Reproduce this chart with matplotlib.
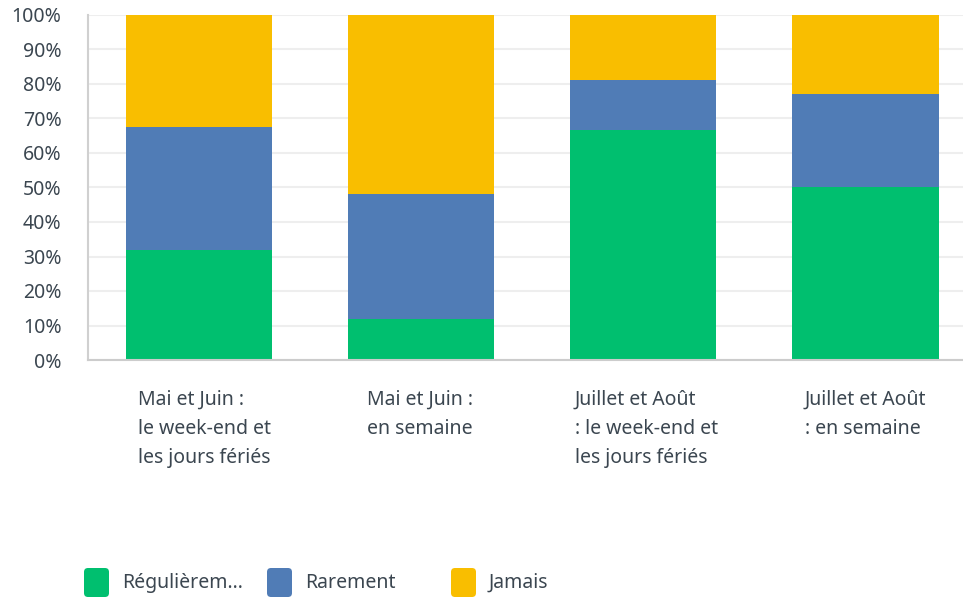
import matplotlib.pyplot as plt
from matplotlib.patches import FancyBboxPatch
from matplotlib.ticker import FuncFormatter

plt.rcParams["font.family"] = ["Noto Sans", "DejaVu Sans"]

categories = [
    "Mai et Juin :\nle week-end et\nles jours fériés",
    "Mai et Juin :\nen semaine",
    "Juillet et Août\n: le week-end et\nles jours fériés",
    "Juillet et Août\n: en semaine",
]
series = ["Régulièrem...", "Rarement", "Jamais"]
regulierement = [32.0, 11.9, 66.7, 50.0]
rarement = [35.5, 36.2, 14.5, 27.1]
jamais = [32.5, 51.9, 18.8, 22.9]

COLORS = ["#00bf6f", "#507cb6", "#f9be00"]
TXT = "#3b4650"

W, H = 963, 599
fig = plt.figure(figsize=(W / 100, H / 100), dpi=100)
ax = fig.add_axes([88 / W, (H - 360) / H, (W - 88) / W, 345 / H])

x = list(range(len(categories)))
bottom = [0.0] * len(x)
for vals, col in zip([regulierement, rarement, jamais], COLORS):
    ax.bar(x, vals, bottom=bottom, width=0.66, color=col, zorder=2)
    bottom = [b + v for b, v in zip(bottom, vals)]

ax.set_xlim(-0.5, 3.44)
ax.set_ylim(0, 100)
ax.set_yticks(range(0, 101, 10))
ax.yaxis.set_major_formatter(FuncFormatter(lambda v, _: f"{v:.0f}%"))
ax.tick_params(axis="y", length=0, labelsize=14, labelcolor=TXT, pad=19)
ax.set_xticks([])
ax.grid(axis="y", color="#eeeeee", lw=1.5, zorder=0)
ax.spines[["top", "right"]].set_visible(False)
ax.spines["left"].set_color("#d0d0d0")
ax.spines["left"].set_linewidth(1.5)
ax.spines["bottom"].set_color("#cccccc")
ax.spines["bottom"].set_linewidth(1.5)

# category labels, left-aligned blocks under each bar
label_x = [138, 367, 575, 805]
for lx, cat in zip(label_x, categories):
    fig.text(lx / W, 1 - 390 / H, cat, ha="left", va="top", fontsize=14,
             color=TXT, linespacing=1.6)

# legend
leg_x = [84, 267, 451]
for lx, name, col in zip(leg_x, series, COLORS):
    fig.patches.append(FancyBboxPatch((lx + 3, 5), 19, 23, boxstyle="round,pad=3,rounding_size=4",
                                      transform=None, facecolor=col, edgecolor="none"))
    fig.text((lx + 38) / W, 1 - 583 / H, name, ha="left", va="center", fontsize=14, color=TXT)

fig.savefig("out.png", dpi=100, facecolor="white")
